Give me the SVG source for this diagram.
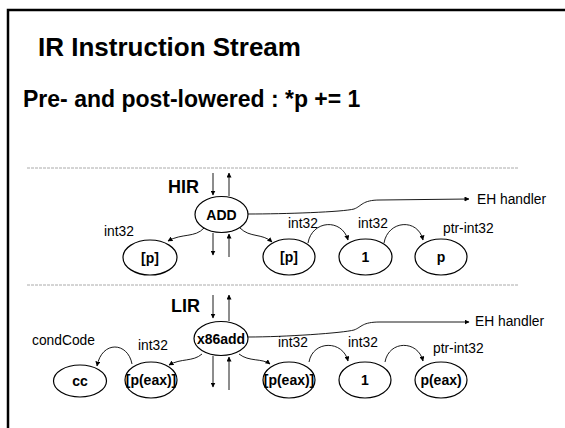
<svg xmlns="http://www.w3.org/2000/svg" width="565" height="428" viewBox="0 0 565 428">
  <style>
    .title { font-family: "Liberation Sans", Arial, sans-serif; font-weight: bold; fill: #000; }
    .lvl { font-family: "Liberation Sans", Arial, sans-serif; font-weight: bold; font-size: 18px; fill: #000; }
    .lbl { font-family: "Liberation Sans", Arial, sans-serif; font-size: 13.8px; fill: #000; }
    .ntx { font-family: "Liberation Sans", Arial, sans-serif; font-weight: bold; font-size: 14px; fill: #000; text-anchor: middle; }
    .node ellipse { fill: #fff; stroke: #000; stroke-width: 1.2; }
    .edge { fill: none; stroke: #000; stroke-width: 0.9; marker-end: url(#arr); }
    .sep { stroke: #aaa; stroke-width: 1; stroke-dasharray: 3 1; }
  </style>
  <defs>
    <marker id="arr" viewBox="0 0 10 10" refX="9" refY="5" markerWidth="5" markerHeight="5" markerUnits="userSpaceOnUse" orient="auto">
      <path d="M0,0 L10,5 L0,10 z" fill="#000"/>
    </marker>
  </defs>

  <rect width="565" height="428" fill="#fff"/>
  <!-- slide frame -->
  <path d="M8,428 V10 H565" fill="none" stroke="#000" stroke-width="2.5"/>

  <text class="title" x="38" y="56" font-size="26">IR Instruction Stream</text>
  <text class="title" x="23" y="107" font-size="23">Pre- and post-lowered : *p += 1</text>

  <!-- section separators -->
  <line class="sep" x1="27" y1="168" x2="518" y2="168"/>
  <line class="sep" x1="27" y1="285" x2="518" y2="285"/>

  <text class="lvl" x="168" y="193">HIR</text>
  <text class="lvl" x="171" y="312">LIR</text>

  <!-- connectors -->
  <g id="connectors">
    <!-- HIR -->
    <path class="edge" d="M213,173 L213,195"/>
    <path class="edge" d="M229,196 L229,173"/>
    <path class="edge" d="M213,233 L213,255"/>
    <path class="edge" d="M229,257 L229,234"/>
    <path class="edge" d="M204,228 C195,238 182,233 168,241"/>
    <path class="edge" d="M240,228 C250,238 262,233 272,242"/>
    <path class="edge" d="M308,243 C312,220 342,218 348,240"/>
    <path class="edge" d="M384,243 C388,220 418,218 423,240"/>
    <path class="edge" d="M248,214 C285,214 343,212 354,209 C362,206 362,200 380,200 L469,199"/>
    <!-- LIR -->
    <path class="edge" d="M213,295 L213,318"/>
    <path class="edge" d="M229,321 L229,295"/>
    <path class="edge" d="M213,356 L213,387"/>
    <path class="edge" d="M229,390 L229,357"/>
    <path class="edge" d="M202,354 C193,362 181,358 169,365"/>
    <path class="edge" d="M239,354 C249,362 262,358 270,364"/>
    <path class="edge" d="M132,364 C128,342 102,340 97,366"/>
    <path class="edge" d="M309,362 C313,340 343,340 348,361"/>
    <path class="edge" d="M385,362 C389,340 418,340 423,361"/>
    <path class="edge" d="M248,337 C285,337 343,333 354,330 C362,327 362,322 380,322 L469,322"/>
  </g>

  <!-- edge labels -->
  <text class="lbl" x="104" y="236">int32</text>
  <text class="lbl" x="288" y="228">int32</text>
  <text class="lbl" x="358" y="228">int32</text>
  <text class="lbl" x="443" y="233">ptr-int32</text>
  <text class="lbl" x="477" y="204">EH handler</text>

  <text class="lbl" x="32" y="345">condCode</text>
  <text class="lbl" x="138" y="350">int32</text>
  <text class="lbl" x="278" y="347">int32</text>
  <text class="lbl" x="348" y="347">int32</text>
  <text class="lbl" x="433" y="353">ptr-int32</text>
  <text class="lbl" x="475" y="326">EH handler</text>

  <!-- HIR nodes -->
  <g id="hir-add" class="node"><ellipse cx="221.5" cy="214.5" rx="26.5" ry="18"/><text class="ntx" x="221.5" y="219.5">ADD</text></g>
  <g id="hir-dst" class="node"><ellipse cx="150" cy="257.5" rx="27" ry="17.5"/><text class="ntx" x="150" y="262.5">[p]</text></g>
  <g id="hir-src1" class="node"><ellipse cx="289" cy="257" rx="26" ry="18"/><text class="ntx" x="289" y="262">[p]</text></g>
  <g id="hir-src2" class="node"><ellipse cx="365.5" cy="257" rx="26.5" ry="18"/><text class="ntx" x="365.5" y="262">1</text></g>
  <g id="hir-ptr" class="node"><ellipse cx="441" cy="257" rx="26" ry="18"/><text class="ntx" x="441" y="262">p</text></g>

  <!-- LIR nodes -->
  <g id="lir-add" class="node"><ellipse cx="221" cy="338.5" rx="27" ry="17"/><text class="ntx" x="221" y="343.5">x86add</text></g>
  <g id="lir-cc" class="node"><ellipse cx="80" cy="381" rx="26.5" ry="16"/><text class="ntx" x="80" y="386">cc</text></g>
  <g id="lir-dst" class="node"><ellipse cx="151" cy="380" rx="26" ry="18"/><text class="ntx" x="151" y="385">[p(eax)]</text></g>
  <g id="lir-src1" class="node"><ellipse cx="289" cy="380" rx="26" ry="18"/><text class="ntx" x="289" y="385">[p(eax)]</text></g>
  <g id="lir-src2" class="node"><ellipse cx="365" cy="380" rx="26" ry="18"/><text class="ntx" x="365" y="385">1</text></g>
  <g id="lir-ptr" class="node"><ellipse cx="441" cy="380" rx="26" ry="18"/><text class="ntx" x="441" y="385">p(eax)</text></g>
</svg>
